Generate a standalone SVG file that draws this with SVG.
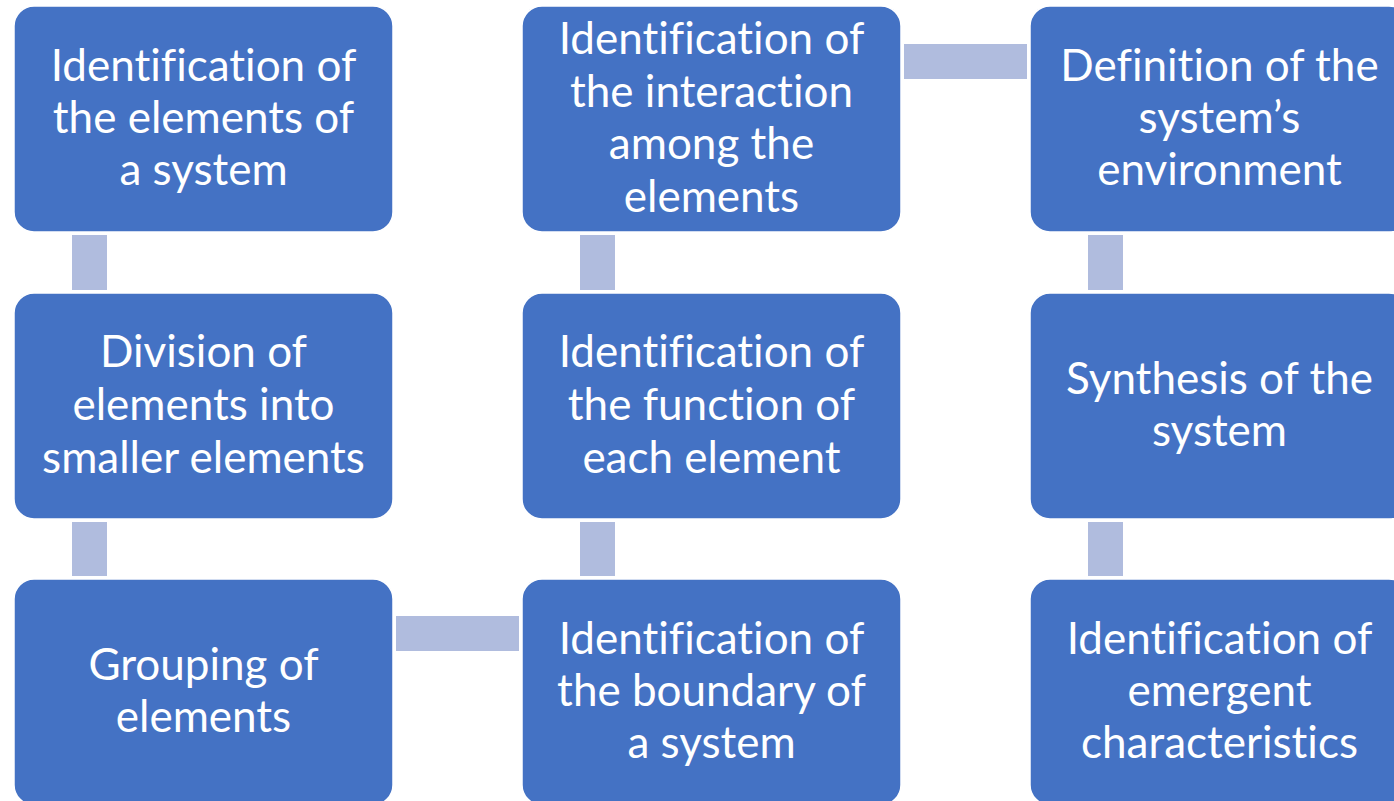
<svg xmlns="http://www.w3.org/2000/svg" width="1394" height="801" viewBox="0 0 1394 801">
<style>
.box{fill:#4472C4;stroke:#ffffff;stroke-width:1.5}
.lbl{fill:#ffffff;font-family:Lato,"Open Sans","Liberation Sans",sans-serif;font-size:44px;text-anchor:middle;font-variant-ligatures:none;font-feature-settings:"liga" 0,"clig" 0,"dlig" 0}
.con{fill:#B0BCDE}
</style>
<rect width="1394" height="801" fill="#ffffff"/>
<g id="connectors">
<rect class="con" x="72" y="235" width="35" height="55"/>
<rect class="con" x="72" y="522" width="35" height="54"/>
<rect class="con" x="396" y="616" width="123" height="35"/>
<rect class="con" x="580" y="522" width="35" height="54"/>
<rect class="con" x="580" y="235" width="35" height="55"/>
<rect class="con" x="904" y="44" width="123" height="35"/>
<rect class="con" x="1088" y="235" width="35" height="55"/>
<rect class="con" x="1088" y="522" width="35" height="54"/>
</g>
<g id="n1">
<rect class="box" x="14" y="6" width="379" height="226" rx="20"/>
<text class="lbl"><tspan x="203.5" y="81">Identification of</tspan><tspan x="203.5" y="133">the elements of</tspan><tspan x="203.5" y="185">a system</tspan></text>
</g>
<g id="n2">
<rect class="box" x="14" y="293" width="379" height="226" rx="20"/>
<text class="lbl"><tspan x="203.5" y="367">Division of</tspan><tspan x="203.5" y="420">elements into</tspan><tspan x="203.5" y="473">smaller elements</tspan></text>
</g>
<g id="n3">
<rect class="box" x="14" y="579" width="379" height="226" rx="20"/>
<text class="lbl"><tspan x="203.5" y="680">Grouping of</tspan><tspan x="203.5" y="732">elements</tspan></text>
</g>
<g id="n4">
<rect class="box" x="522" y="579" width="379" height="226" rx="20"/>
<text class="lbl"><tspan x="711.5" y="654">Identification of</tspan><tspan x="711.5" y="706">the boundary of</tspan><tspan x="711.5" y="758">a system</tspan></text>
</g>
<g id="n5">
<rect class="box" x="522" y="293" width="379" height="226" rx="20"/>
<text class="lbl"><tspan x="711.5" y="367">Identification of</tspan><tspan x="711.5" y="420">the function of</tspan><tspan x="711.5" y="473">each element</tspan></text>
</g>
<g id="n6">
<rect class="box" x="522" y="6" width="379" height="226" rx="20"/>
<text class="lbl"><tspan x="711.5" y="54">Identification of</tspan><tspan x="711.5" y="107">the interaction</tspan><tspan x="711.5" y="159">among the</tspan><tspan x="711.5" y="212">elements</tspan></text>
</g>
<g id="n7">
<rect class="box" x="1030" y="6" width="379" height="226" rx="20"/>
<text class="lbl"><tspan x="1219.5" y="81">Definition of the</tspan><tspan x="1219.5" y="133">system’s</tspan><tspan x="1219.5" y="185">environment</tspan></text>
</g>
<g id="n8">
<rect class="box" x="1030" y="293" width="379" height="226" rx="20"/>
<text class="lbl"><tspan x="1219.5" y="394">Synthesis of the</tspan><tspan x="1219.5" y="446">system</tspan></text>
</g>
<g id="n9">
<rect class="box" x="1030" y="579" width="379" height="226" rx="20"/>
<text class="lbl"><tspan x="1219.5" y="654">Identification of</tspan><tspan x="1219.5" y="706">emergent</tspan><tspan x="1219.5" y="758">characteristics</tspan></text>
</g>
</svg>
